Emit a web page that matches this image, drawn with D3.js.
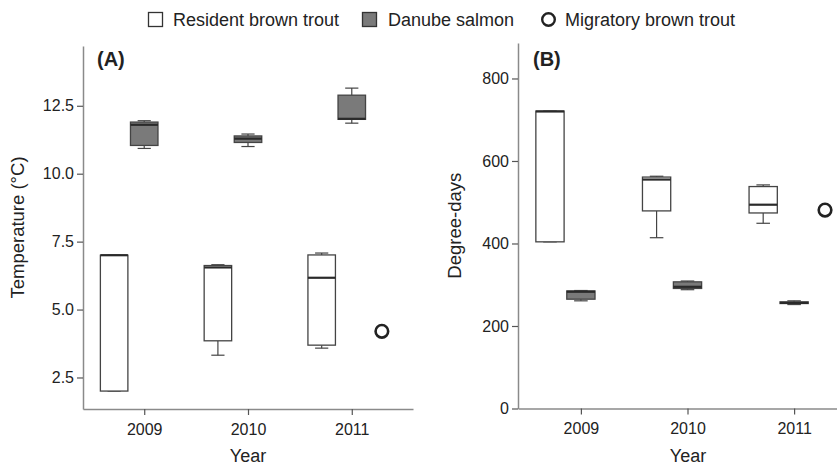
<!DOCTYPE html>
<html>
<head>
<meta charset="utf-8">
<script src="https://cdn.jsdelivr.net/npm/d3@7"></script>
<style>
  body { margin: 0; background: #fff; }
  text { font-family: "Liberation Sans", Arial, sans-serif; fill: #222; }
</style>
</head>
<body>
<svg id="chart" width="837" height="466"></svg>
<script>
// box stats are [min, q1, median, q3, max]
var years = [2009, 2010, 2011];
var groups = ["Resident brown trout", "Danube salmon", "Migratory brown trout"];

var tempResident = [[2.0, 2.0, 7.0, 7.0, 7.0], [3.32, 3.85, 6.55, 6.62, 6.65], [3.58, 3.69, 6.17, 7.01, 7.08]];
var tempDanube = [[10.93, 11.04, 11.8, 11.9, 11.95], [11.0, 11.15, 11.29, 11.39, 11.46], [11.86, 12.0, 12.02, 12.89, 13.15]];
var tempMigratory = [{year: 2011, value: 4.2}];

var ddResident = [[404, 404, 720, 721, 721], [414, 479, 555, 561, 563], [449, 474, 494, 538, 542]];
var ddDanube = [[261, 265, 283, 285, 286], [288, 291, 295, 307, 309], [252, 254.5, 256, 258.5, 261]];
var ddMigratory = [{year: 2011, value: 481}];

var tempTicks = [2.5, 5.0, 7.5, 10.0, 12.5];
var ddTicks = [0, 200, 400, 600, 800];

var svg = d3.select("#chart");
var groupOffset = {"Resident brown trout": -0.29, "Danube salmon": 0, "Migratory brown trout": 0.29};
var boxW = 0.265;

function panel(opt) {
  var x = d3.scaleLinear().domain([2008.41, 2011.59]).range(opt.xRange);
  var y = d3.scaleLinear().domain(opt.yDomain).range(opt.yRange);
  var g = svg.append("g");

  var xAxis = g.append("g").attr("transform", "translate(0," + opt.yRange[0] + ")")
    .call(d3.axisBottom(x).tickValues(years).tickFormat(d3.format("d")).tickSize(6).tickSizeOuter(0));
  var yAxis = g.append("g").attr("transform", "translate(" + opt.xRange[0] + ",0)")
    .call(d3.axisLeft(y).tickValues(opt.ticks).tickFormat(opt.fmt).tickSize(6).tickSizeOuter(0));
  [xAxis, yAxis].forEach(function(a) {
    a.select(".domain").attr("stroke", "#8a8a8a").attr("stroke-width", 1.5);
    a.selectAll(".tick line").attr("stroke", "#555").attr("stroke-width", 1.2);
    a.selectAll(".tick text").attr("font-size", 16).attr("fill", "#333")
      .attr("font-family", "Liberation Sans, Arial, sans-serif");
  });
  xAxis.selectAll(".tick text").attr("dy", "1.05em");

  var series = [
    {name: groups[0], stats: opt.resident, fill: "#fff"},
    {name: groups[1], stats: opt.danube, fill: "#7a7a7a"}
  ];
  series.forEach(function(s) {
    var bw = x(2009 + boxW) - x(2009);
    var cap = bw * 0.48;
    var boxes = g.selectAll(null).data(s.stats.map(function(d, i) { return {year: years[i], v: d}; }))
      .enter().append("g")
      .attr("transform", function(d) { return "translate(" + x(d.year + groupOffset[s.name]) + ",0)"; });
    boxes.append("line").attr("x1", 0).attr("x2", 0)
      .attr("y1", function(d) { return y(d.v[0]); }).attr("y2", function(d) { return y(d.v[1]); })
      .attr("stroke", "#444").attr("stroke-width", 1.2);
    boxes.append("line").attr("x1", 0).attr("x2", 0)
      .attr("y1", function(d) { return y(d.v[3]); }).attr("y2", function(d) { return y(d.v[4]); })
      .attr("stroke", "#444").attr("stroke-width", 1.2);
    [0, 4].forEach(function(k) {
      boxes.append("line").attr("x1", -cap / 2).attr("x2", cap / 2)
        .attr("y1", function(d) { return y(d.v[k]); }).attr("y2", function(d) { return y(d.v[k]); })
        .attr("stroke", "#444").attr("stroke-width", 1.2);
    });
    boxes.append("rect").attr("x", -bw / 2).attr("width", bw)
      .attr("y", function(d) { return y(d.v[3]); })
      .attr("height", function(d) { return y(d.v[1]) - y(d.v[3]); })
      .attr("fill", s.fill).attr("stroke", "#444").attr("stroke-width", 1.3);
    boxes.append("line").attr("x1", -bw / 2).attr("x2", bw / 2)
      .attr("y1", function(d) { return y(d.v[2]); }).attr("y2", function(d) { return y(d.v[2]); })
      .attr("stroke", "#2a2a2a").attr("stroke-width", 2.2);
  });

  g.selectAll(null).data(opt.migratory).enter().append("circle")
    .attr("cx", function(d) { return x(d.year + groupOffset[groups[2]]); })
    .attr("cy", function(d) { return y(d.value); })
    .attr("r", 6.3).attr("fill", "none").attr("stroke", "#222").attr("stroke-width", 2.6);

  g.append("text").attr("x", opt.xRange[0] + opt.tagDx).attr("y", 66)
    .attr("font-size", 20).attr("font-weight", "bold").text(opt.tag);
  g.append("text").attr("x", opt.titleX).attr("y", 462).attr("text-anchor", "middle")
    .attr("font-size", 18).text("Year");
  g.append("text").attr("transform", "translate(" + opt.labelX + "," + (opt.yRange[0] + opt.yRange[1]) / 2 + ") rotate(-90)")
    .attr("text-anchor", "middle").attr("font-size", 18.5).text(opt.yLabel);
}

panel({xRange: [83, 413], yDomain: [1.34, 14.7], yRange: [409, 46], ticks: tempTicks, fmt: d3.format(".1f"),
  resident: tempResident, danube: tempDanube, migratory: tempMigratory,
  tag: "(A)", tagDx: 14, titleX: 248, labelX: 24, yLabel: "Temperature (°C)"});
panel({xRange: [518, 857], yDomain: [0, 886], yRange: [408.5, 43], ticks: ddTicks, fmt: d3.format("d"),
  resident: ddResident, danube: ddDanube, migratory: ddMigratory,
  tag: "(B)", tagDx: 15, titleX: 688, labelX: 461, yLabel: "Degree-days"});

// legend
var legend = svg.append("g");
legend.append("rect").attr("x", 148.5).attr("y", 12.5).attr("width", 14).attr("height", 14)
  .attr("fill", "#fff").attr("stroke", "#333").attr("stroke-width", 1.3);
legend.append("text").attr("x", 173).attr("y", 26).attr("font-size", 18).text(groups[0]);
legend.append("rect").attr("x", 362.5).attr("y", 12.5).attr("width", 14).attr("height", 14)
  .attr("fill", "#7a7a7a").attr("stroke", "#333").attr("stroke-width", 1.3);
legend.append("text").attr("x", 388).attr("y", 26).attr("font-size", 18).text(groups[1]);
legend.append("circle").attr("cx", 548.5).attr("cy", 19.5).attr("r", 6.3)
  .attr("fill", "none").attr("stroke", "#222").attr("stroke-width", 2.4);
legend.append("text").attr("x", 565).attr("y", 26).attr("font-size", 18).text(groups[2]);
</script>
</body>
</html>
